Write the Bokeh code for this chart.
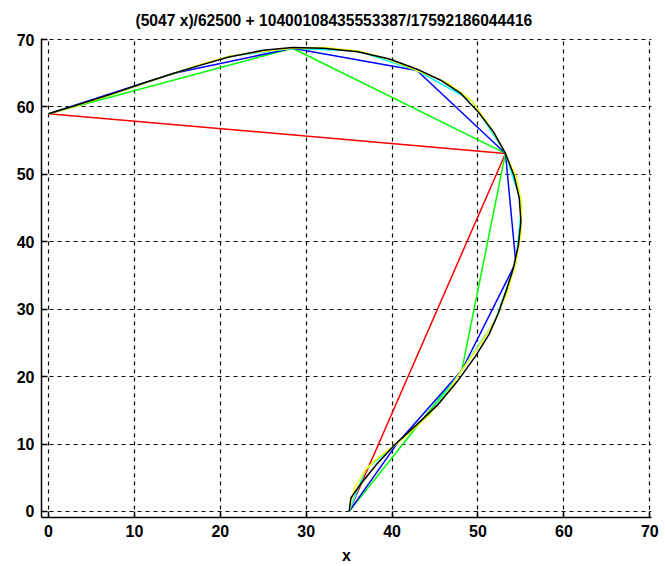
from bokeh.plotting import figure
from bokeh.models import FixedTicker, Range1d
from bokeh.embed import file_html
from bokeh.resources import INLINE

title_text = "(5047 x)/62500 + 10400108435553387/17592186044416"
x_label = "x"
x_ticks = [0, 10, 20, 30, 40, 50, 60, 70]
y_ticks = [0, 10, 20, 30, 40, 50, 60, 70]

# true curve (black)
curve_x = [35.0, 35.2, 36.3, 38.2, 40.4, 42.8, 45.3, 47.6, 49.7, 51.3, 52.4, 53.3, 54.1,
           54.7, 55.0, 54.8, 54.2, 53.2, 51.8, 50.0, 48.0, 45.6, 42.9, 39.7, 36.0, 32.0,
           28.4, 25.0, 21.0, 17.7, 14.6, 11.0, 7.3, 3.6, 0.0]
curve_y = [0.0, 2.0, 4.0, 7.0, 10.0, 12.8, 15.8, 19.3, 23.0, 26.3, 29.5, 32.8, 36.0,
           39.5, 43.0, 46.5, 49.8, 53.1, 56.3, 59.3, 62.0, 64.0, 65.6, 67.1, 68.2, 68.7,
           68.8, 68.4, 67.4, 66.2, 65.0, 63.5, 61.9, 60.4, 59.0]

# 2-segment approximation (red)
red_x = [35.0, 53.2, 0.0]
red_y = [0.0, 53.1, 59.0]

# 4-segment approximation (green)
green_x = [35.0, 48.1, 53.2, 28.4, 0.0]
green_y = [0.0, 20.9, 53.1, 68.7, 59.0]

# 8-segment approximation (blue)
blue_x = [35.0, 40.6, 48.1, 54.4, 53.2, 42.9, 28.4, 14.6, 0.0]
blue_y = [0.0, 10.1, 20.9, 36.9, 53.1, 65.4, 68.7, 65.0, 59.0]

# 16-segment approximation (cyan)
cyan_x = [35.0, 36.9, 40.6, 44.3, 48.1, 52.0, 54.4, 55.1, 53.2, 49.3, 42.9, 36.0, 28.4,
          21.0, 14.6, 7.3, 0.0]
cyan_y = [0.0, 6.2, 10.1, 14.3, 20.9, 28.3, 36.9, 45.5, 53.1, 60.9, 65.4, 68.3, 68.7,
          67.5, 65.0, 61.8, 59.0]

# 32-segment approximation (yellow)
yellow_x = [35.0, 35.6, 36.9, 38.6, 40.6, 42.4, 44.3, 46.2, 48.1, 50.1, 52.0, 53.4, 54.4,
            55.0, 55.1, 54.5, 53.2, 51.5, 49.3, 46.4, 42.9, 39.5, 36.0, 32.2, 28.4, 24.7,
            21.0, 17.7, 14.6, 10.9, 7.3, 3.6, 0.0]
yellow_y = [0.0, 3.4, 6.2, 8.2, 10.1, 12.1, 14.3, 17.3, 20.9, 24.5, 28.3, 32.5, 36.9,
            41.2, 45.5, 49.5, 53.1, 56.9, 60.9, 63.6, 65.4, 67.1, 68.3, 68.8, 68.7, 68.2,
            67.5, 66.3, 65.0, 63.4, 61.8, 60.3, 59.0]

p = figure(width=665, height=566, output_backend="svg", toolbar_location=None,
           x_range=Range1d(-0.82, 70.2), y_range=Range1d(-0.9, 70.15),
           min_border_left=41, min_border_right=14, min_border_top=38,
           min_border_bottom=49)
p.background_fill_color = "white"
p.border_fill_color = "white"
p.outline_line_color = None

p.title.text = title_text
p.title.align = "left"
p.title.offset = 94
p.title.text_font = "Liberation Sans"
p.title.text_font_style = "bold"
p.title.text_font_size = "15.6px"
p.title.text_color = "black"
p.title.standoff = 16
p.title.vertical_align = "top"

for ax, ticks in ((p.xaxis, x_ticks), (p.yaxis, y_ticks)):
    ax.ticker = FixedTicker(ticks=ticks)
    ax.major_tick_in = 6
    ax.major_tick_out = 0
    ax.minor_tick_in = 0
    ax.minor_tick_out = 0
    ax.axis_line_color = "black"
    ax.axis_line_width = 1.5
    ax.major_tick_line_color = "black"
    ax.major_tick_line_width = 1.5
    ax.major_label_text_font = "Liberation Sans"
    ax.major_label_text_font_style = "bold"
    ax.major_label_text_font_size = "16px"
    ax.major_label_text_color = "black"
    ax.major_label_standoff = 7

p.xaxis.axis_label = x_label
p.xaxis.axis_label_text_font = "Liberation Sans"
p.xaxis.axis_label_text_font_style = "bold"
p.xaxis.axis_label_text_font_size = "16px"
p.xaxis.axis_label_text_color = "black"
p.xaxis.axis_label_standoff = 7

for g in (p.xgrid, p.ygrid):
    g.grid_line_color = "black"
    g.grid_line_dash = "4 4"
    g.grid_line_width = 1.2
    g.grid_line_alpha = 1.0

p.line(red_x, red_y, line_color="#ff0000", line_width=1.5)
p.line(green_x, green_y, line_color="#00ff00", line_width=1.5)
p.line(blue_x, blue_y, line_color="#0000ff", line_width=1.5)
p.line(cyan_x, cyan_y, line_color="#00ffff", line_width=1.5)
p.line(yellow_x, yellow_y, line_color="#ffff00", line_width=1.5)
p.line(curve_x, curve_y, line_color="black", line_width=1.5)

open("out.html", "w").write(file_html(p, INLINE))
